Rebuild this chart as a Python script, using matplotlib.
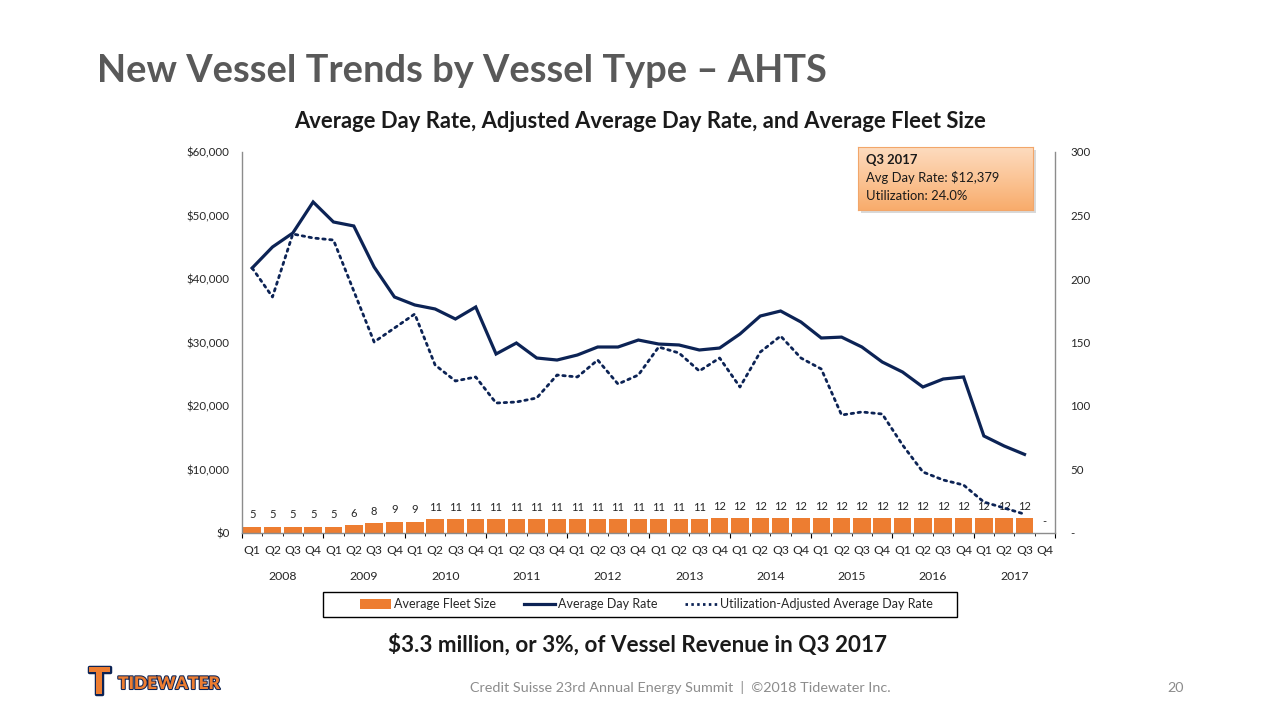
import matplotlib
matplotlib.use("Agg")
import matplotlib.pyplot as plt
import numpy as np
from matplotlib.patches import Rectangle
from matplotlib.lines import Line2D
from matplotlib.colors import LinearSegmentedColormap
import matplotlib.patheffects as pe

# ---------------- data ----------------
years = ["2008", "2009", "2010", "2011", "2012", "2013", "2014", "2015", "2016", "2017"]
quarters = ["Q1", "Q2", "Q3", "Q4"]

fleet_size = [5, 5, 5, 5, 5, 6, 8, 9, 9, 11, 11, 11,
              11, 11, 11, 11, 11, 11, 11, 11, 11, 11, 11, 12,
              12, 12, 12, 12, 12, 12, 12, 12, 12, 12, 12, 12,
              12, 12, 12, 0]

avg_day_rate = [41730, 45040, 47240, 52130, 48980, 48350, 41890, 37170,
                35910, 35280, 33700, 35590, 28190, 29920, 27560, 27240,
                28030, 29290, 29290, 30390, 29760, 29610, 28820, 29130,
                31340, 34170, 34960, 33230, 30710, 30850, 29290, 26930,
                25350, 22990, 24250, 24570, 15280, 13700, 12379, np.nan]

util_adj_rate = [41730, 37170, 47090, 46460, 46140, 38110, 30080, 32280,
                 34490, 26460, 23940, 24570, 20470, 20630, 21260, 24880,
                 24570, 27240, 23460, 24880, 29290, 28350, 25510, 27560,
                 22990, 28500, 31020, 27560, 25830, 18580, 19060, 18740,
                 13860, 9610, 8350, 7560, 4880, 3940, 2971, np.nan]

left_ticks = [0, 10000, 20000, 30000, 40000, 50000, 60000]
right_ticks = [0, 50, 100, 150, 200, 250, 300]

ORANGE = "#ED7D31"
NAVY = "#0C2355"
GRAY = "#8C8C8C"
TXT = "#262626"

plt.rcParams['font.family'] = ['Lato', 'DejaVu Sans']

fig = plt.figure(figsize=(12.8, 7.2), dpi=100)
L, R, T, B = 242, 1055, 152, 533
ax2 = fig.add_axes([L / 1280, 1 - B / 720, (R - L) / 1280, (B - T) / 720])
ax = ax2.twinx()
ax.yaxis.tick_left()
ax.yaxis.set_label_position("left")
ax2.yaxis.tick_right()
ax2.yaxis.set_label_position("right")
ax.set_zorder(ax2.get_zorder() + 1)
ax.patch.set_visible(False)

n = len(fleet_size)
x = np.arange(n)

# bars (right axis)
ax2.bar(x, fleet_size, width=0.86, color=ORANGE, zorder=2)
for xi, v in zip(x, fleet_size):
    ax2.annotate(str(v) if v else "-", (xi, v), xytext=(0, 4.5), textcoords="offset points",
                 ha="center", va="bottom", fontsize=8, color=TXT)
ax2.set_ylim(0, 300)
ax2.set_yticks(right_ticks)
ax2.set_yticklabels([("-" if v == 0 else str(v)) for v in right_ticks])

# lines (left axis)
ax.plot(x, avg_day_rate, color=NAVY, lw=2.3, solid_joinstyle="miter", zorder=3)
ax.plot(x, util_adj_rate, color=NAVY, lw=2.0, ls=(0, (0.9, 1.6)), dash_capstyle="round", zorder=3)
ax.set_ylim(0, 60000)
ax.set_yticks(left_ticks)
ax.set_yticklabels([f"${v:,}" for v in left_ticks])

ax.set_xlim(-0.5, n - 0.5)
ax2.set_xlim(-0.5, n - 0.5)

for a in (ax, ax2):
    for s in a.spines.values():
        s.set_visible(False)
ax.spines["left"].set_visible(True)
ax.spines["bottom"].set_visible(True)
ax2.spines["right"].set_visible(True)
for s in (ax.spines["left"], ax.spines["bottom"], ax2.spines["right"]):
    s.set_color(GRAY)
    s.set_linewidth(1.0)

ax.tick_params(axis="y", length=0, pad=9, labelsize=8.3, labelcolor=TXT)
ax2.tick_params(axis="y", length=0, pad=11, labelsize=8.3, labelcolor=TXT)

# category axis separators
ax2.set_xticks([])
ax.set_xticks(np.arange(-0.5, n, 4))
ax.set_xticks(np.arange(-0.5, n + 0.5, 1), minor=True)
ax.set_xticklabels([])
ax.tick_params(axis="x", which="major", length=39, width=0.8, color=GRAY, direction="out")
ax.tick_params(axis="x", which="minor", length=17.5, width=0.8, color=GRAY, direction="out")

trans = ax.get_xaxis_transform()
for i in range(n):
    ax.text(i, -(550 - B) / (B - T), quarters[i % 4], transform=trans, ha="center", va="center",
            fontsize=8.8, color=TXT)
for j, yr in enumerate(years):
    ax.text(4 * j + 1.5, -(577 - B) / (B - T), yr, transform=trans, ha="center", va="center",
            fontsize=8.8, color=TXT)

# legend
handles = [Rectangle((0, 0), 1, 1, fc=ORANGE, ec="none"),
           Line2D([], [], color=NAVY, lw=2.3),
           Line2D([], [], color=NAVY, lw=2.0, ls=(0, (0.9, 1.2)))]
labels = ["Average Fleet Size", "Average Day Rate", "Utilization-Adjusted Average Day Rate"]
leg = fig.legend(handles, labels, loc="center",
                 bbox_to_anchor=(357 / 1280, 1 - 617 / 720, 578 / 1280, 25 / 720),
                 mode="expand", ncol=3, frameon=False, fontsize=9,
                 handlelength=2.5, handleheight=0.9, columnspacing=2.0, handletextpad=0.25,
                 borderpad=0.2, borderaxespad=0)
for t in leg.get_texts():
    t.set_color(TXT)
fig.patches.append(Rectangle((323 / 1280, 1 - 617 / 720), 634 / 1280, 25 / 720,
                             transform=fig.transFigure, fill=False, ec="black", lw=1.0))

# annotation box with gradient
bx0, by0, bx1, by1 = 858, 147, 1033, 210
shadow = fig.add_axes([(bx0 + 3) / 1280, 1 - (by1 + 3) / 720, (bx1 - bx0) / 1280, (by1 - by0) / 720])
shadow.set_facecolor("#D9D9D9")
shadow.set_xticks([]); shadow.set_yticks([])
for s in shadow.spines.values():
    s.set_visible(False)
box = fig.add_axes([bx0 / 1280, 1 - by1 / 720, (bx1 - bx0) / 1280, (by1 - by0) / 720])
grad = np.linspace(0, 1, 100).reshape(-1, 1)
cmap = LinearSegmentedColormap.from_list("og", ["#FDDCC0", "#FBC597", "#F8AC6C"])
box.imshow(grad, aspect="auto", cmap=cmap, extent=[0, 1, 0, 1], origin="upper")
box.set_xticks([]); box.set_yticks([])
for s in box.spines.values():
    s.set_color("#F2A66A")
    s.set_linewidth(0.8)
fig.text(866 / 1280, 1 - 160 / 720, "Q3 2017", fontsize=9.4, fontweight="bold", color="#1A1A1A",
         ha="left", va="center")
fig.text(866 / 1280, 1 - 178 / 720, "Avg Day Rate: $12,379", fontsize=9.4, color="#1A1A1A",
         ha="left", va="center")
fig.text(866 / 1280, 1 - 196 / 720, "Utilization: 24.0%", fontsize=9.4, color="#1A1A1A",
         ha="left", va="center")

# titles and footer
fig.text(97 / 1280, 1 - 71 / 720, "New Vessel Trends by Vessel Type \u2013 AHTS", fontsize=27.4,
         fontweight="bold", color="#595959", ha="left", va="center")
fig.text(640 / 1280, 1 - 121 / 720, "Average Day Rate, Adjusted Average Day Rate, and Average Fleet Size",
         fontsize=15.8, fontweight="bold", color="#1A1A1A", ha="center", va="center")
fig.text(638 / 1280, 1 - 645 / 720, "$3.3 million, or 3%, of Vessel Revenue in Q3 2017",
         fontsize=16.2, fontweight="bold", color="#1A1A1A", ha="center", va="center")
fig.text(680 / 1280, 1 - 688 / 720, "Credit Suisse 23rd Annual Energy Summit  |  \u00a92018 Tidewater Inc.",
         fontsize=10.4, color="#8C8C8C", ha="center", va="center")
fig.text(1176 / 1280, 1 - 688 / 720, "20", fontsize=10.4, color="#8C8C8C", ha="center", va="center")

# logo
fig.text(99 / 1280, 1 - 683 / 720, "T", fontsize=26, fontweight="heavy", color=ORANGE,
         ha="center", va="center",
         path_effects=[pe.withStroke(linewidth=2.5, foreground=NAVY)])
fig.text(118 / 1280, 1 - 684 / 720, "TIDEWATER", fontsize=12.5, fontweight="heavy", color=ORANGE,
         ha="left", va="center",
         path_effects=[pe.withStroke(linewidth=1.5, foreground=NAVY)])

fig.savefig("out.png", dpi=100)
